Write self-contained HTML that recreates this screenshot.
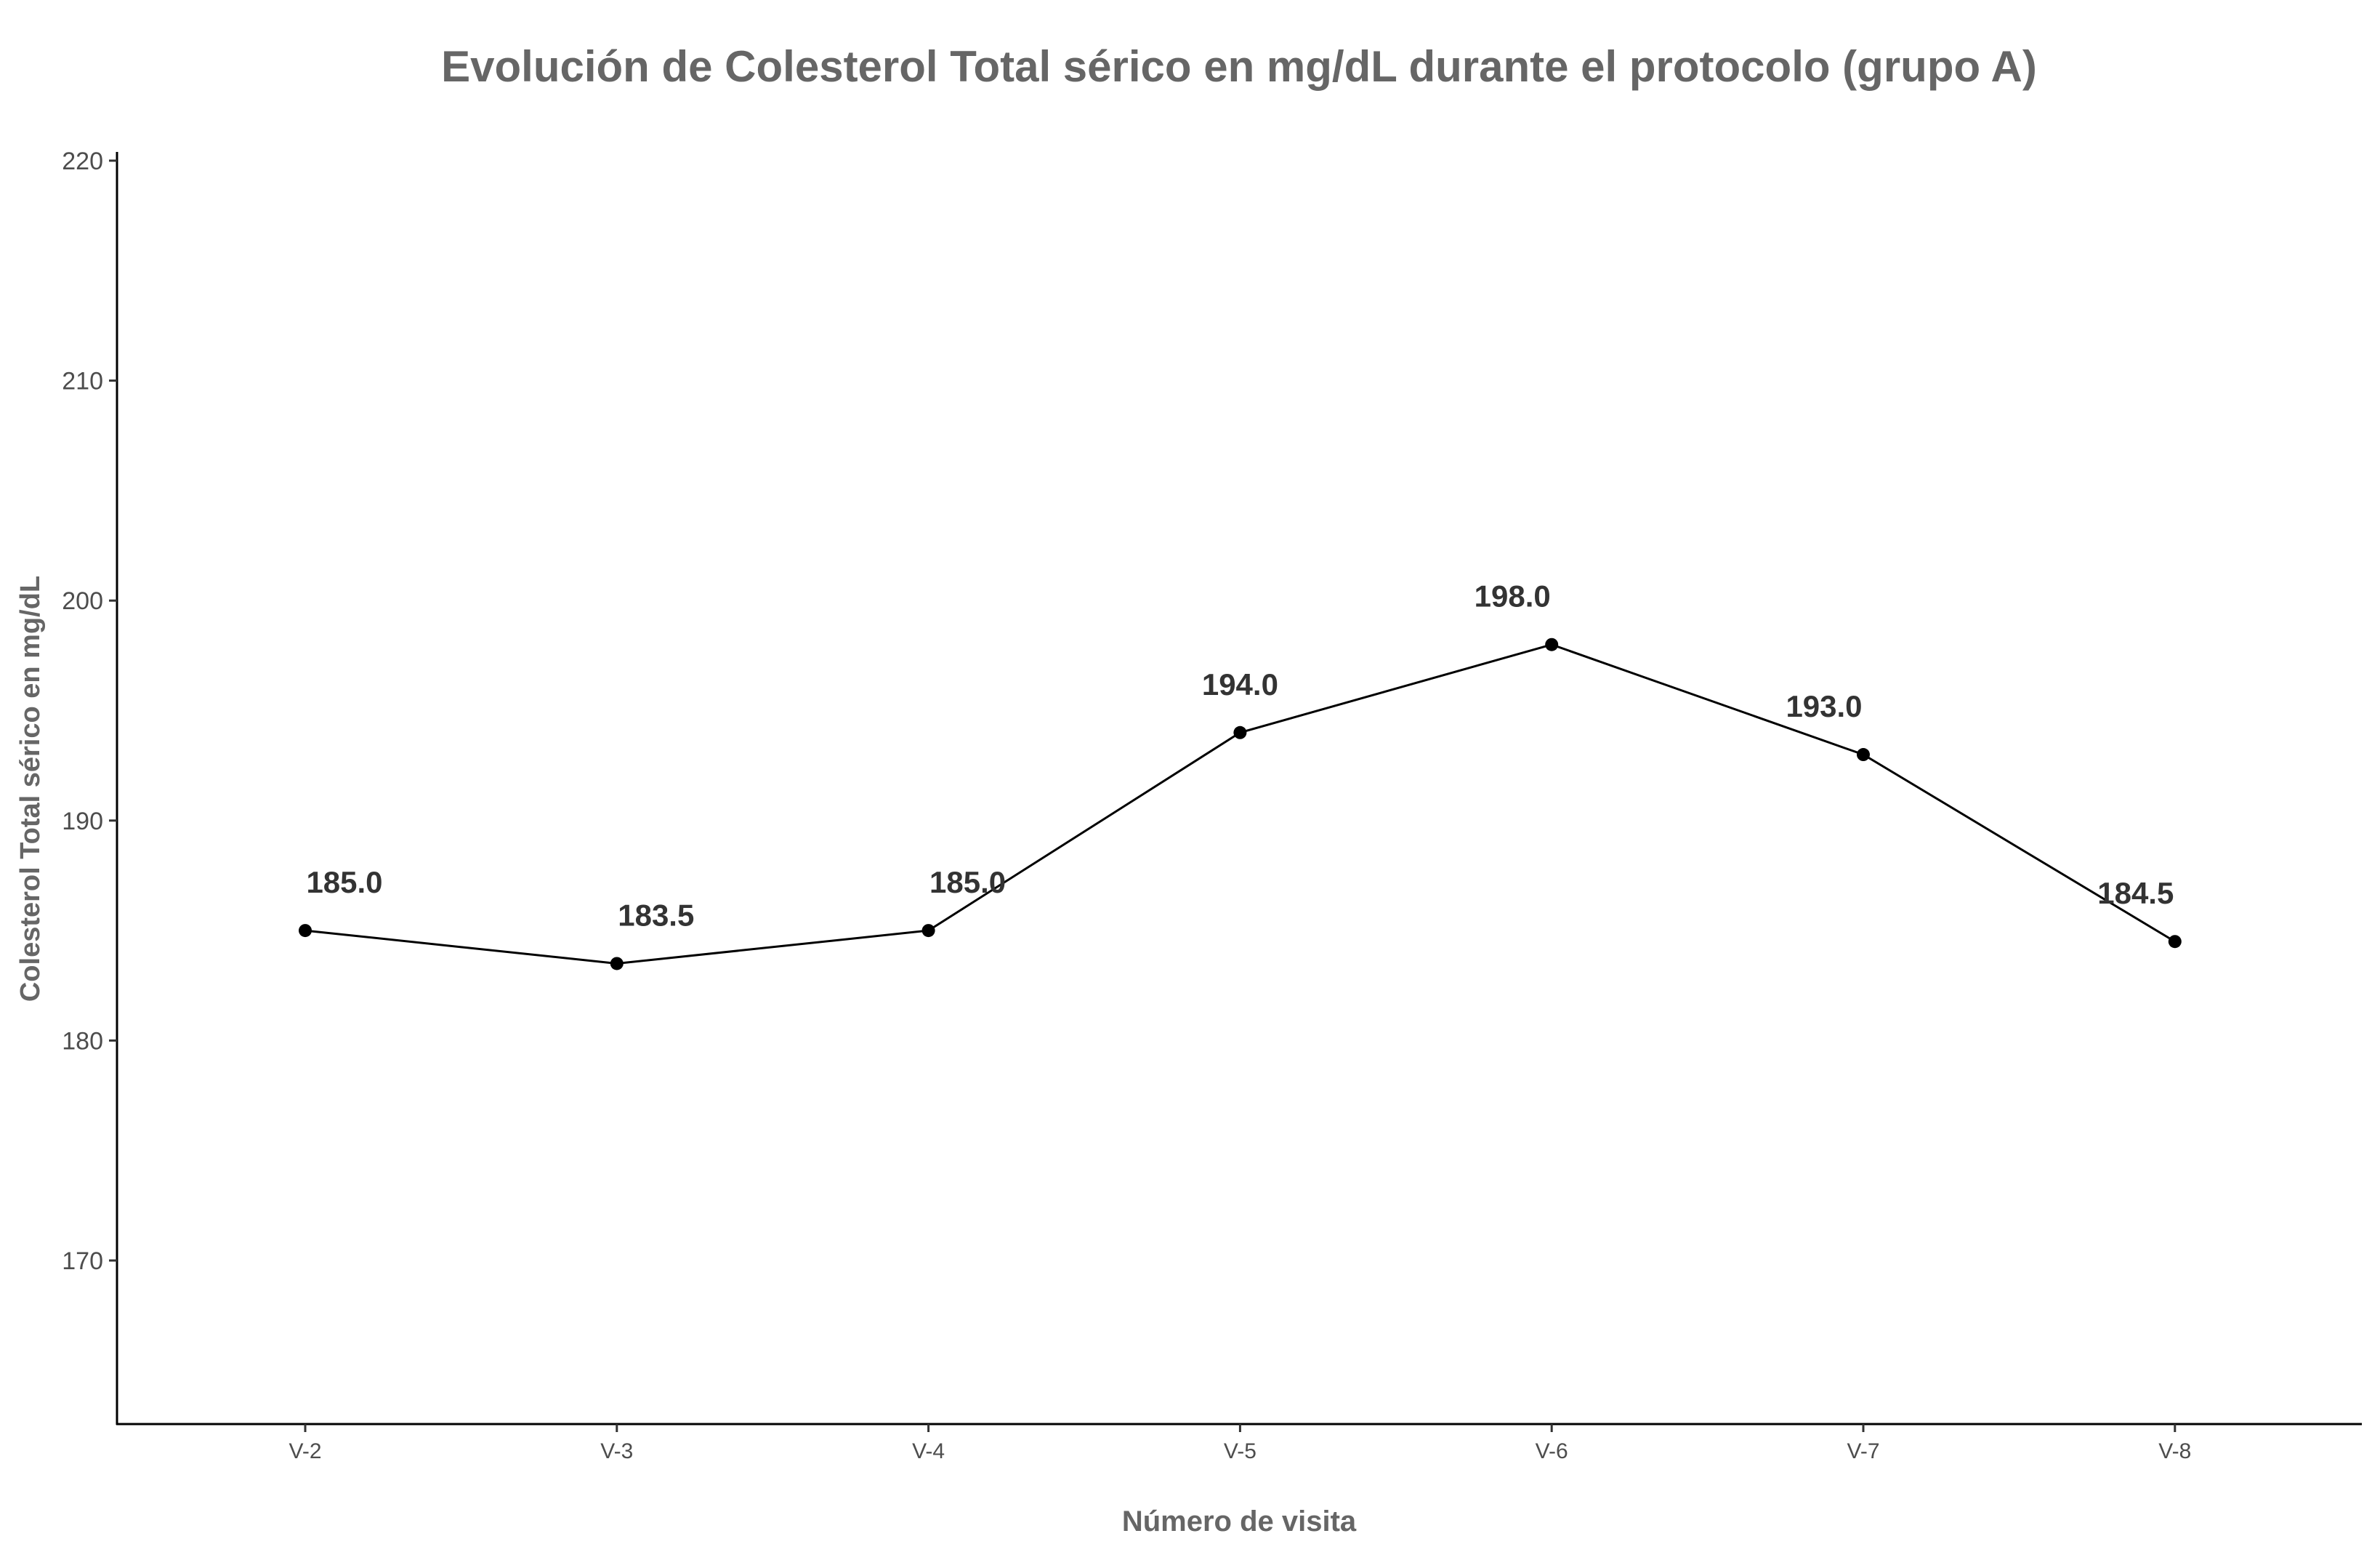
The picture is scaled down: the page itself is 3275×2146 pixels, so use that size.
<!DOCTYPE html>
<html><head><meta charset="utf-8"><style>
body{margin:0;background:#fff;}
svg text{font-family:"Liberation Sans",Arial,sans-serif;}
</style></head><body>
<svg id="chart" width="3275" height="2141" viewBox="0 0 3275 2141">
<text x="1705" y="112" text-anchor="middle" font-size="60" font-weight="bold" fill="#666">Evolución de Colesterol Total sérico en mg/dL durante el protocolo (grupo A)</text>
<text transform="translate(54,1085) rotate(-90)" text-anchor="middle" font-size="38" font-weight="bold" fill="#666">Colesterol Total sérico en mg/dL</text>
<text x="1705" y="2106" text-anchor="middle" font-size="40" font-weight="bold" fill="#666">Número de visita</text>
<g id="axes"></g>
<g id="marks"></g>
</svg>
<script>
const categories=["V-2","V-3","V-4","V-5","V-6","V-7","V-8"];
const values=[185.0,183.5,185.0,194.0,198.0,193.0,184.5];
const yTicks=[170,180,190,200,210,220];
const labelSide=[1,1,1,0,-1,-1,-1];
const NS="http://www.w3.org/2000/svg";
const X0=420,DX=428.8,Y220=221,PU=30.26;
const xs=i=>X0+i*DX;
const ys=v=>Y220+(220-v)*PU;
const axes=document.getElementById('axes'),marks=document.getElementById('marks');
function mk(tag,at,parent){const e=document.createElementNS(NS,tag);for(const k in at)e.setAttribute(k,at[k]);parent.appendChild(e);return e;}
let yl=mk('line',{x1:161,y1:209,x2:161,y2:1960,stroke:'#000','stroke-width':3},axes);


let xl=mk('line',{x1:160,y1:1959,x2:3250,y2:1959,stroke:'#000','stroke-width':3},axes);


yTicks.forEach(t=>{
 const y=ys(t);
 let tk=mk('line',{x1:150,y1:y,x2:161,y2:y,stroke:'#333','stroke-width':3},axes);
 
 
 let tx=mk('text',{x:142,y:y+12,'text-anchor':'end','font-size':34,fill:'#4d4d4d'},axes);
 tx.textContent=t;
 
 
});
categories.forEach((c,i)=>{
 const x=xs(i);
 let tk=mk('line',{x1:x,y1:1959,x2:x,y2:1970,stroke:'#333','stroke-width':3},axes);
 
 
 let tx=mk('text',{x:x,y:2006,'text-anchor':'middle','font-size':30,fill:'#4d4d4d'},axes);
 tx.textContent=c;
 
 
});
let pts=values.map((v,i)=>xs(i)+','+ys(v)).join(' ');
let pl=mk('polyline',{points:pts,fill:'none',stroke:'#000','stroke-width':3},marks);


values.forEach((v,i)=>{
 let c=mk('circle',{cx:xs(i),cy:ys(v),r:9,fill:'#000'},marks);
 
 
 let t=mk('text',{x:xs(i)+labelSide[i]*54,y:ys(v)-52,'text-anchor':'middle','font-size':42,'font-weight':'bold',fill:'#333'},marks);
 t.textContent=v.toFixed(1);
 
 
});
</script>
</body></html>
